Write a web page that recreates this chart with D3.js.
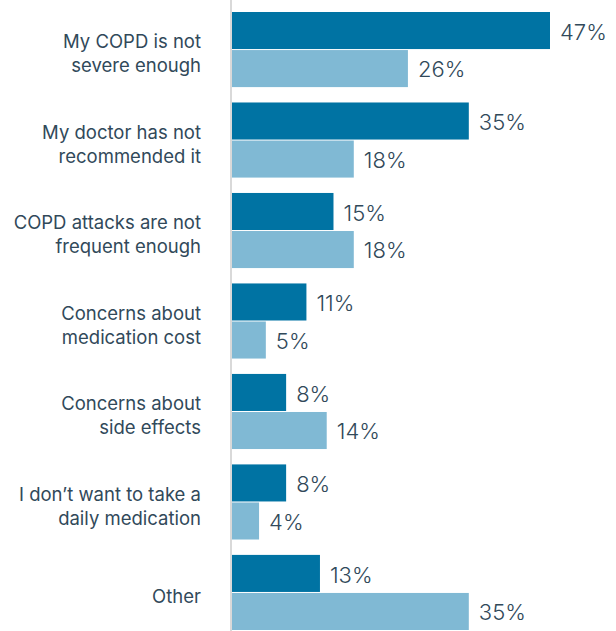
<!DOCTYPE html>
<html>
<head>
<meta charset="utf-8">
<script src="https://d3js.org/d3.v7.min.js"></script>
<style>
  body { margin: 0; background: #fff; }
  text { font-family: Inter, "Noto Sans", sans-serif; fill: #31495a; }
</style>
</head>
<body>
<script>
// Data
var categories = [
  ["My COPD is not", "severe enough"],
  ["My doctor has not", "recommended it"],
  ["COPD attacks are not", "frequent enough"],
  ["Concerns about", "medication cost"],
  ["Concerns about", "side effects"],
  ["I don\u2019t want to take a", "daily medication"],
  ["Other"]
];
var seriesA = [47, 35, 15, 11, 8, 8, 13];
var seriesB = [26, 18, 18, 5, 14, 4, 35];
var colors = ["#0073a3", "#80b9d4"];

var width = 616, height = 631;
var x0 = 232;

var svg = d3.select("body").append("svg")
  .attr("width", width)
  .attr("height", height);

var y = d3.scaleBand()
  .domain(d3.range(categories.length))
  .range([12, 630])
  .paddingInner(0.17)
  .paddingOuter(0);

var x = d3.scaleLinear().domain([0, 47]).range([x0, 550]);

var yInner = d3.scaleBand().domain([0, 1]).range([0, y.bandwidth()]);

// axis line
svg.append("line")
  .attr("x1", x0 - 1).attr("x2", x0 - 1)
  .attr("y1", 0).attr("y2", height)
  .attr("stroke", "#d9d9d9")
  .attr("stroke-width", 2);

var groups = svg.selectAll(".grp")
  .data(categories)
  .enter().append("g")
  .attr("class", "grp")
  .attr("transform", function(d, i) { return "translate(0," + y(i) + ")"; });

groups.each(function(d, i) {
  var g = d3.select(this);
  var vals = [seriesA[i], seriesB[i]];
  vals.forEach(function(v, j) {
    g.append("rect")
      .attr("x", x(0))
      .attr("y", yInner(j) + (j == 1 ? 0.5 : 0))
      .attr("width", x(v) - x(0))
      .attr("height", yInner.bandwidth() - 0.5)
      .attr("fill", colors[j]);
    g.append("text")
      .attr("x", x(v) + 10)
      .attr("y", yInner(j) + yInner.bandwidth() / 2 + 1)
      .attr("dy", "0.36em")
      .style("font-size", "22px")
      .style("font-weight", 300)
      .text(v + "%");
  });
  // category label
  var lh = 24;
  var t = g.append("text")
    .attr("text-anchor", "end")
    .style("font-size", "18.5px");
  d.forEach(function(line, k) {
    t.append("tspan")
      .attr("x", 201)
      .attr("y", y.bandwidth() / 2 + 4 + (k - (d.length - 1) / 2) * lh)
      .attr("dy", "0.36em")
      .text(line);
  });
});
</script>
</body>
</html>
